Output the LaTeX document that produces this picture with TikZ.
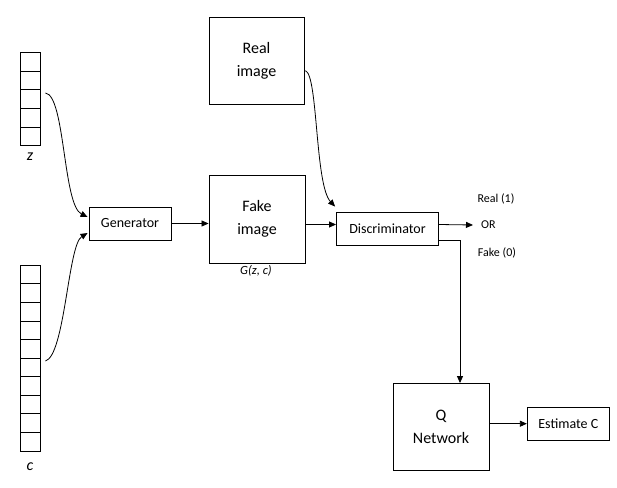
\documentclass[tikz,border=0pt]{standalone}
\usepackage{fontspec}
\setmainfont{Carlito}
\usetikzlibrary{arrows.meta,calc}
\begin{document}
\begin{tikzpicture}[x=1pt,y=-1pt,
  box/.style={draw, line width=0.9pt, inner sep=0pt, align=center},
  bigtext/.style={font=\fontsize{16}{23}\selectfont},
  midtext/.style={font=\fontsize{14}{17}\selectfont},
  smalltext/.style={font=\fontsize{12}{14}\selectfont},
  cell/.style={draw, line width=0.9pt, minimum width=20pt, inner sep=0pt},
  conn/.style={line width=0.8pt, -{Triangle[length=7pt,width=6pt]}}]
\useasboundingbox (0,0) rectangle (617,487);

% latent vector z (5 cells) and code vector c (10 cells)
\foreach \i in {1,...,5}
  \node[cell, minimum height=18.7pt] (z\i) at (30,{52.3+18.7*(\i-0.5)}) {};
\foreach \i in {1,...,10}
  \node[cell, minimum height=18.57pt] (c\i) at (30,{265.3+18.57*(\i-0.5)}) {};
\node[font=\itshape\fontsize{16}{16}\selectfont] (zlab) at (30,157) {z};
\node[font=\itshape\fontsize{16}{16}\selectfont] (clab) at (30,467) {c};

% blocks
\node[box, midtext, minimum width=82pt, minimum height=33pt] (gen) at (130,223.5) {Generator};
\node[box, bigtext, minimum width=96pt, minimum height=88pt] (fake) at (257,219) {Fake\\image};
\node[box, bigtext, minimum width=95pt, minimum height=87pt] (real) at (256.5,60.7) {Real\\image};
\node[box, midtext, minimum width=102pt, minimum height=33pt] (disc) at (387.5,228.5) {Discriminator};
\node[box, bigtext, minimum width=96pt, minimum height=87pt] (q) at (441,427) {Q\\Network};
\node[box, midtext, minimum width=82pt, minimum height=33pt] (est) at (568.3,423.7) {Estimate C};

% labels
\node[font=\itshape\fontsize{12.5}{14}\selectfont] (glab) at (256,270.5) {G(z, c)};
\node[smalltext] (r1) at (496,199) {Real (1)};
\node[smalltext, anchor=west, inner xsep=8pt] (or) at (473,225) {OR};
\node[smalltext] (f0) at (497,253) {Fake (0)};

% anchor points for connectors
\coordinate (zs) at ($(z3.east)+(5,-6)$);
\coordinate (cs) at ($(c6.east)+(5,-6.4)$);
\coordinate (gz) at ($(gen.west)+(-1,-6.5)$);
\coordinate (gc) at ($(gen.west)+(-1,9.5)$);
\coordinate (rs) at ($(real.east)+(1,10)$);
\coordinate (rd) at ($(disc.north west)+(-1,-5)$);
\coordinate (din) at ($(disc.west)+(0,-4)$);
\coordinate (dout) at ($(disc.east)+(0,-4)$);
\coordinate (dq) at ($(disc.east)+(0,12)$);
\coordinate (qin) at ($(q.north)+(19,0)$);

% connectors
\draw[conn] (zs) .. controls (65,95) and (63,205) .. (gz);
\draw[conn] (cs) .. controls (65,355) and (68,245) .. (gc);
\draw[conn] (rs) .. controls (318,75) and (315,185) .. (rd);
\draw[conn] (gen.east) -- (gen.east -| fake.west);
\draw[conn] (fake.east |- din) -- (din);
\draw[conn] (dout) -- (or.west);
\draw[conn] (dq) -| (qin);
\draw[conn] (q.east |- est.west) -- (est.west);
\end{tikzpicture}
\end{document}
